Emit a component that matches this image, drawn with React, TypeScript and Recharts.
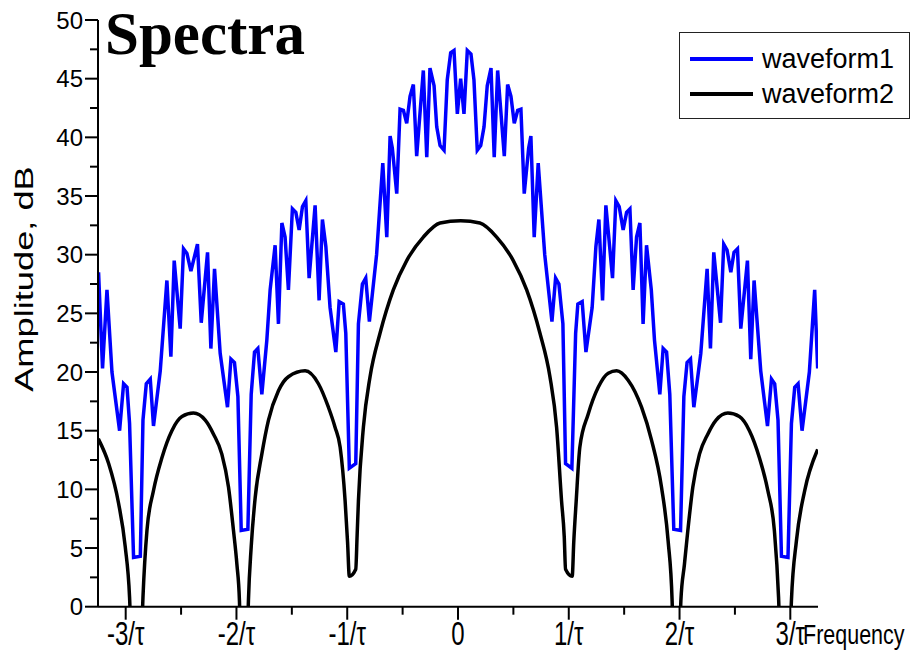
import { LineChart, Line, XAxis, YAxis, Legend, Label } from "recharts";

// waveform1: the jagged blue spectrum (frequency in units of 1/tau, amplitude in dB)
const freq1 = [
  -3.245, -3.209, -3.169, -3.124, -3.055, -3.019, -2.988, -2.965, -2.929, -2.868,
  -2.844, -2.814, -2.778, -2.749, -2.688, -2.628, -2.592, -2.562, -2.508, -2.478,
  -2.447, -2.411, -2.352, -2.318, -2.261, -2.231, -2.198, -2.147, -2.081, -2.05,
  -2.018, -1.987, -1.957, -1.897, -1.867, -1.837, -1.807, -1.771, -1.726, -1.696,
  -1.651, -1.621, -1.59, -1.561, -1.531, -1.495, -1.464, -1.434, -1.404, -1.374,
  -1.344, -1.29, -1.254, -1.224, -1.193, -1.155, -1.103, -1.073, -1.035, -1.013,
  -0.981, -0.923, -0.899, -0.863, -0.833, -0.8, -0.735, -0.679, -0.643, -0.613,
  -0.593, -0.553, -0.523, -0.493, -0.463, -0.433, -0.403, -0.373, -0.313, -0.282,
  -0.253, -0.216, -0.192, -0.162, -0.126, -0.097, -0.066, -0.036, -0.006, 0.024,
  0.054, 0.084, 0.117, 0.144, 0.174, 0.205, 0.235, 0.264, 0.298, 0.327,
  0.358, 0.418, 0.448, 0.478, 0.508, 0.539, 0.568, 0.598, 0.638, 0.658,
  0.688, 0.724, 0.783, 0.848, 0.881, 0.911, 0.947, 0.971, 1.028, 1.062,
  1.082, 1.121, 1.155, 1.211, 1.245, 1.272, 1.305, 1.335, 1.395, 1.425,
  1.455, 1.491, 1.522, 1.552, 1.581, 1.612, 1.642, 1.671, 1.702, 1.745,
  1.774, 1.822, 1.852, 1.883, 1.912, 1.948, 2.009, 2.039, 2.068, 2.099,
  2.129, 2.192, 2.249, 2.279, 2.309, 2.37, 2.399, 2.429, 2.463, 2.492,
  2.523, 2.553, 2.613, 2.643, 2.673, 2.733, 2.794, 2.83, 2.859, 2.889,
  2.92, 2.979, 3.01, 3.04, 3.07, 3.106, 3.172, 3.22, 3.247,
];
const amp1 = [
  28.5, 20.3, 27.0, 20.0, 15.0, 19.0, 18.7, 15.6, 4.2, 4.3,
  15.9, 19.0, 19.4, 15.4, 20.1, 27.8, 21.3, 29.5, 23.7, 30.5,
  30.1, 28.6, 30.9, 24.2, 30.2, 22.0, 28.8, 21.6, 17.0, 21.1,
  20.8, 17.9, 6.5, 6.6, 18.1, 21.7, 22.0, 18.1, 22.7, 27.0,
  30.8, 24.1, 32.7, 31.5, 27.0, 33.9, 33.6, 32.1, 34.1, 34.6,
  28.0, 34.2, 26.1, 33.0, 30.7, 25.5, 21.7, 26.0, 25.8, 23.3,
  11.8, 12.2, 24.1, 27.5, 28.0, 24.3, 30.0, 37.8, 31.5, 40.1,
  39.1, 35.2, 42.4, 42.3, 41.2, 43.5, 44.5, 38.4, 45.7, 38.3,
  45.9, 44.4, 40.9, 39.3, 38.9, 44.9, 47.2, 47.4, 42.0, 45.0,
  42.0, 47.4, 47.1, 44.9, 38.9, 39.3, 40.9, 44.4, 45.9, 38.3,
  45.7, 38.4, 44.5, 43.5, 41.2, 42.3, 42.4, 35.2, 39.1, 40.1,
  31.5, 37.8, 30.0, 24.3, 28.0, 27.5, 24.1, 12.2, 11.8, 23.3,
  25.8, 26.0, 21.7, 25.5, 30.7, 33.0, 26.1, 34.2, 28.0, 34.6,
  34.1, 32.1, 33.6, 33.9, 27.0, 31.5, 32.7, 24.1, 30.8, 27.0,
  22.7, 18.1, 22.0, 21.7, 18.1, 6.6, 6.5, 17.9, 20.8, 21.1,
  17.0, 21.6, 28.8, 22.0, 30.2, 24.2, 30.9, 30.4, 28.5, 30.2,
  30.5, 23.7, 29.5, 21.1, 27.8, 20.1, 15.4, 19.4, 19.0, 15.9,
  4.3, 4.2, 15.6, 18.7, 19.0, 15.0, 20.0, 27.0, 20.3,
];

// waveform2: the smooth black sinc-like envelope (dips below 0 dB at the nulls)
const freq2 = [
  -3.247, -3.154, -3.064, -3.004, -2.965, -2.905, -2.844, -2.808, -2.749, -2.673,
  -2.583, -2.492, -2.388, -2.282, -2.207, -2.132, -2.072, -2.027, -1.996, -1.973,
  -1.933, -1.892, -1.867, -1.831, -1.771, -1.711, -1.621, -1.531, -1.38, -1.26,
  -1.17, -1.11, -1.064, -1.019, -0.997, -0.981, -0.923, -0.911, -0.899, -0.854,
  -0.794, -0.704, -0.584, -0.463, -0.313, -0.162, 0.024, 0.198, 0.349, 0.499,
  0.62, 0.74, 0.83, 0.89, 0.935, 0.959, 0.971, 1.031, 1.045, 1.067,
  1.1, 1.175, 1.266, 1.356, 1.432, 1.536, 1.657, 1.747, 1.837, 1.897,
  1.933, 1.973, 2.012, 2.044, 2.075, 2.12, 2.18, 2.255, 2.33, 2.436,
  2.54, 2.631, 2.721, 2.797, 2.856, 2.894, 2.953, 3.01, 3.055, 3.13,
  3.247,
];
const amp2 = [
  14.3, 12.2, 8.8, 5.1, 0.8, -20, 0.8, 6.5, 9.9, 12.7,
  15.0, 16.2, 16.5, 15.9, 14.7, 13.0, 10.2, 6.5, 3.6, 0.5,
  -20, 0.5, 5.1, 9.3, 13.0, 15.9, 18.4, 19.6, 20.1, 19.0,
  17.0, 15.3, 13.6, 9.0, 5.5, 2.6, 3.2, 6.0, 9.0, 15.3,
  19.6, 23.3, 27.0, 29.5, 31.5, 32.7, 32.9, 32.7, 31.5, 29.5,
  27.0, 23.3, 19.6, 15.3, 9.0, 6.0, 3.2, 2.6, 5.5, 9.0,
  13.6, 16.4, 18.7, 19.9, 20.1, 19.3, 17.0, 14.2, 10.2, 5.6,
  0.5, -20, 0.5, 3.6, 6.5, 10.2, 13.0, 14.7, 15.9, 16.5,
  16.2, 15.0, 12.7, 9.9, 6.5, 0.8, -20, 0.5, 5.6, 9.9,
  13.4,
];

const xTicks = [-3, -2.5, -2, -1.5, -1, -0.5, 0, 0.5, 1, 1.5, 2, 2.5, 3];
const xMajor = [-3, -2, -1, 0, 1, 2, 3];
const xMajorLabels = ["-3/τ", "-2/τ", "-1/τ", "0", "1/τ", "2/τ", "3/τ"];
const yTicks = [
  0, 2.5, 5, 7.5, 10, 12.5, 15, 17.5, 20, 22.5, 25, 27.5, 30, 32.5, 35, 37.5, 40,
  42.5, 45, 47.5, 50,
];

const blueData = freq1.map((f, i) => ({ f, amp: amp1[i] }));
const blackData = freq2.map((f, i) => ({ f, amp: amp2[i] }));

const SANS = "'Liberation Sans', Arial, sans-serif";

function XTick(props: any) {
  const { x, y, payload } = props;
  const i = xMajor.indexOf(payload.value);
  const major = i >= 0;
  return (
    <g>
      <line x1={x} x2={x} y1={y} y2={y + (major ? 13 : 8)} stroke="#000" strokeWidth={2} />
      {major && (
        <text
          transform={`translate(${x},${y + 38}) scale(1,1.4)`}
          textAnchor="middle"
          fontFamily={SANS}
          fontSize={24}
          fill="#000"
        >
          {xMajorLabels[i]}
        </text>
      )}
    </g>
  );
}

function YTick(props: any) {
  const { x, y, payload } = props;
  const major = payload.value % 5 === 0;
  return (
    <g>
      <line x1={x - (major ? 13 : 8)} x2={x} y1={y} y2={y} stroke="#000" strokeWidth={2} />
      {major && (
        <text
          x={x - 15}
          y={y}
          textAnchor="end"
          dominantBaseline="central"
          fontFamily={SANS}
          fontSize={24}
          fill="#000"
        >
          {payload.value}
        </text>
      )}
    </g>
  );
}

function LegendBox({ payload }: any) {
  return (
    <div
      style={{
        position: "relative",
        width: 231,
        height: 87,
        border: "1px solid #222",
        boxSizing: "border-box",
        background: "#fff",
      }}
    >
      {(payload || []).map((p: any, i: number) => (
        <div
          key={p.value}
          style={{ position: "absolute", left: 10, top: 12 + i * 35, height: 28, display: "flex", alignItems: "center" }}
        >
          <div style={{ width: 63, height: 4, background: p.color }} />
          <span style={{ marginLeft: 9, fontFamily: SANS, fontSize: 27, color: "#000", lineHeight: "28px" }}>
            {p.value}
          </span>
        </div>
      ))}
    </div>
  );
}

export default function App() {
  return (
    <div style={{ position: "absolute", left: 0, top: 0, width: 912, height: 659, background: "#fff" }}>
      <LineChart width={912} height={659} margin={{ top: 20, right: 94, bottom: 0, left: 38 }}>
        <XAxis
          type="number"
          dataKey="f"
          domain={[-3.25, 3.25]}
          allowDataOverflow
          ticks={xTicks}
          interval={0}
          height={52.3}
          tickSize={0}
          tickMargin={0}
          tickLine={false}
          tick={<XTick />}
          axisLine={{ stroke: "#000", strokeWidth: 2 }}
        >
          <Label
            content={({ viewBox }: any) => (
              <text
                transform={`translate(${viewBox.x + viewBox.width - 15},${viewBox.y + 37}) scale(1,1.3)`}
                fontFamily={SANS}
                fontSize={21.5}
                fill="#000"
              >
                Frequency
              </text>
            )}
          />
        </XAxis>
        <YAxis
          type="number"
          domain={[0, 50]}
          allowDataOverflow
          ticks={yTicks}
          interval={0}
          width={60}
          tickSize={0}
          tickMargin={0}
          tickLine={false}
          tick={<YTick />}
          axisLine={{ stroke: "#000", strokeWidth: 2 }}
        >
          <Label
            content={() => (
              <text
                transform="translate(25,279) rotate(-90) scale(1.45,1)"
                textAnchor="middle"
                dominantBaseline="central"
                fontFamily={SANS}
                fontSize={25}
                fill="#000"
              >
                Amplitude, dB
              </text>
            )}
          />
        </YAxis>
        <Legend
          layout="horizontal"
          verticalAlign="middle"
          align="center"
          content={<LegendBox />}
          wrapperStyle={{ left: 679, top: 32, width: 231, height: 87 }}
        />
        <Line
          data={blueData}
          dataKey="amp"
          name="waveform1"
          type="linear"
          stroke="#0000ff"
          strokeWidth={3.5}
          dot={false}
          isAnimationActive={false}
        />
        <Line
          data={blackData}
          dataKey="amp"
          name="waveform2"
          type="monotone"
          stroke="#000"
          strokeWidth={3.5}
          dot={false}
          isAnimationActive={false}
        />
      </LineChart>
      <svg width={912} height={70} style={{ position: "absolute", left: 0, top: 0, pointerEvents: "none" }}>
        <text x={105} y={54} fontFamily="'Liberation Serif', 'Times New Roman', serif" fontWeight="bold" fontSize={61} fill="#000">
          Spectra
        </text>
      </svg>
    </div>
  );
}
